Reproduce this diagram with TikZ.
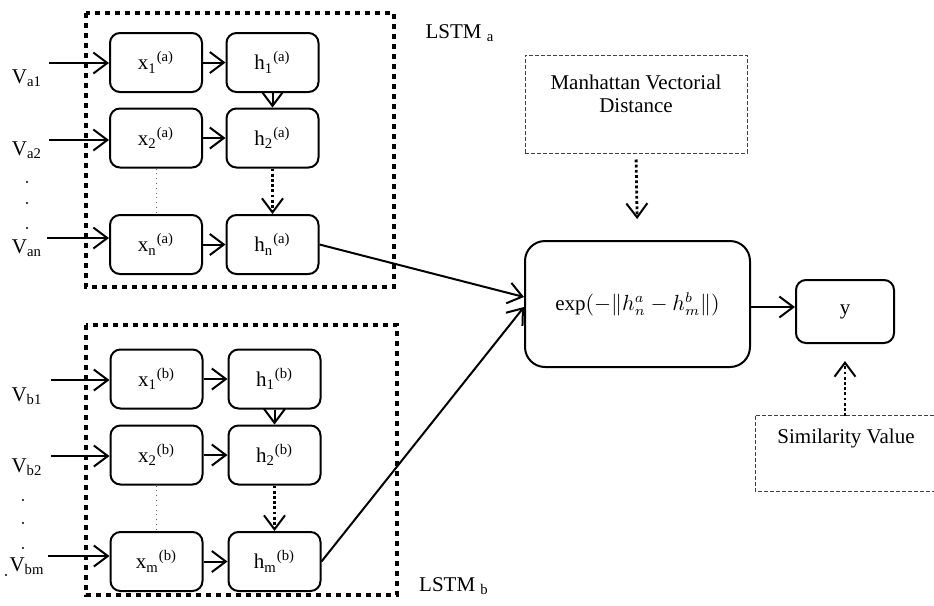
\documentclass[tikz,border=0pt]{standalone}
\usepackage{fontspec}
\setmainfont{Liberation Serif}
\usetikzlibrary{arrows.meta,positioning}

\begin{document}
\begin{tikzpicture}[
    x=0.5pt, y=-0.5pt,
    every node/.style={font=\fontsize{10.5}{11.5}\selectfont},
    box/.style={rectangle, rounded corners=5pt, minimum width=46pt, minimum height=29.5pt, text centered, draw=black, line width=1pt, inner sep=0pt},
    arrow/.style={-{Straight Barb[length=7pt, width=10.5pt]}, line width=1pt},
    dotarrow/.style={-{Straight Barb[length=7pt, width=10.5pt, line width=1pt]}, line width=1.4pt, dash pattern=on 1.4pt off 1.2pt},
    lstmframe/.style={line width=2.2pt, dash pattern=on 2.4pt off 2.6pt},
    dashbox/.style={draw=black!75, line width=0.5pt, dash pattern=on 2pt off 1pt},
    thindots/.style={draw=black!60, line width=0.4pt, dotted}
]
\useasboundingbox (0,0) rectangle (934,606);

% LSTM a
\draw[lstmframe] (86,13) rectangle (394,287);
\node (lstma) at (460,33) {LSTM \textsubscript{a}};

\node[box] (xa1) at (156,62.5) {x\textsubscript{1}\textsuperscript{(a)}};
\node[box, right=11.25pt of xa1] (ha1) {h\textsubscript{1}\textsuperscript{(a)}};
\node[box, below=7.25pt of xa1] (xa2) {x\textsubscript{2}\textsuperscript{(a)}};
\node[box, right=11.25pt of xa2] (ha2) {h\textsubscript{2}\textsuperscript{(a)}};
\node[box, below=22.75pt of xa2] (xan) {x\textsubscript{n}\textsuperscript{(a)}};
\node[box, right=11.25pt of xan] (han) {h\textsubscript{n}\textsuperscript{(a)}};

\node (va1) at (27,78) {V\textsubscript{a1}};
\node (va2) at (27,150) {V\textsubscript{a2}};
\node (van) at (27,248) {V\textsubscript{an}};
\foreach \y in {182,203,228} \fill (27,\y) circle (0.55pt);
\coordinate (ina1) at (49,63);
\coordinate (ina2) at (49,140);
\coordinate (inan) at (47,238);

\draw[arrow] (ina1) -- (ina1 -| xa1.west);
\draw[arrow] (ina2) -- (ina2 -| xa2.west);
\draw[arrow] (inan) -- (inan -| xan.west);
\draw[arrow] (xa1) -- (ha1);
\draw[arrow] (xa2) -- (ha2);
\draw[arrow] (xan) -- (han);
\draw[arrow] (ha1) -- (ha2);
\draw[dotarrow] (ha2) -- (han);
\draw[thindots] (xa2) -- (xan);

% LSTM b
\draw[lstmframe] (86,325) rectangle (397,595);
\node (lstmb) at (454,586) {LSTM \textsubscript{b}};

\node[box] (xb1) at (156.5,379) {x\textsubscript{1}\textsuperscript{(b)}};
\node[box, right=12pt of xb1] (hb1) {h\textsubscript{1}\textsuperscript{(b)}};
\node[box, below=7.5pt of xb1] (xb2) {x\textsubscript{2}\textsuperscript{(b)}};
\node[box, right=12pt of xb2] (hb2) {h\textsubscript{2}\textsuperscript{(b)}};
\node[box, below=22.75pt of xb2] (xbm) {x\textsubscript{m}\textsuperscript{(b)}};
\node[box, right=12pt of xbm] (hbm) {h\textsubscript{m}\textsuperscript{(b)}};

\node (vb1) at (27,396) {V\textsubscript{b1}};
\node (vb2) at (27,467) {V\textsubscript{b2}};
\node (vbm) at (27,566) {V\textsubscript{bm}};
\foreach \y in {500,523,548} \fill (23,\y) circle (0.55pt);
\fill (6,575) circle (0.55pt);
\coordinate (inb1) at (51,380);
\coordinate (inb2) at (51,456);
\coordinate (inbm) at (48,556);

\draw[arrow] (inb1) -- (inb1 -| xb1.west);
\draw[arrow] (inb2) -- (inb2 -| xb2.west);
\draw[arrow] (inbm) -- (inbm -| xbm.west);
\draw[arrow] (xb1) -- (hb1);
\draw[arrow] (xb2) -- (hb2);
\draw[arrow] (xbm) -- (hbm);
\draw[arrow] (hb1) -- (hb2);
\draw[dotarrow] (hb2) -- (hbm);
\draw[thindots] (xb2) -- (xbm);

% distance and output
\node[box, rounded corners=10pt, minimum width=112.5pt, minimum height=63pt] (dist) at (637.5,304) {$\exp(-\|h^a_n-h^b_m\|)$};
\node[box, minimum width=49pt, minimum height=31.5pt] (out) at (845,311.5) {y};

\node[dashbox, minimum width=111pt, minimum height=49pt] (man) at (636,104) {};
\node[align=center] (mantext) at (636,94) {Manhattan Vectorial\\Distance};

\draw[dashbox] (934,415) -| (755,491) -- (934,491);
\node (simtext) at (846,438) {Similarity Value};
\coordinate (simtop) at ([yshift=-36pt]out.south);

\draw[arrow] (han.east) -- ([yshift=3.5pt]dist.west);
\draw[arrow] (hbm.east) -- ([yshift=-1.5pt]dist.west);
\draw[arrow] ([yshift=-1.5pt]dist.east) -- ([yshift=-1.5pt]dist.east -| out.west);
\draw[dotarrow, shorten <=3pt, shorten >=10.5pt] (man.south) -- (dist.north);
\draw[dotarrow, shorten >=8.5pt] (simtop) -- (out.south);

\end{tikzpicture}
\end{document}
